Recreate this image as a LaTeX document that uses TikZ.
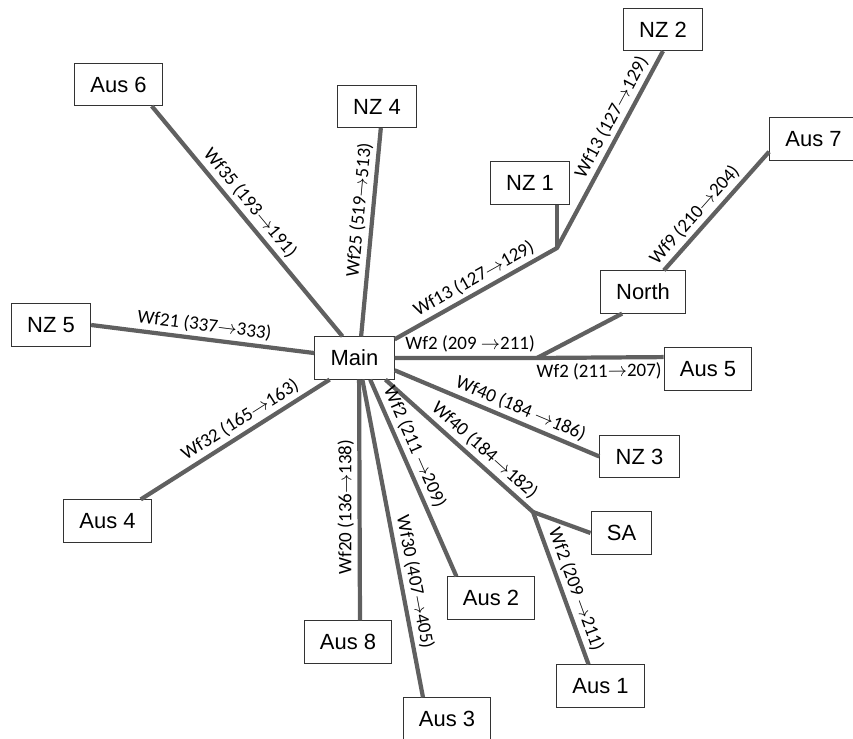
\documentclass[tikz,border=0pt]{standalone}
\usepackage{fontspec}
\setmainfont{Liberation Sans}
\newfontfamily\labfont{Carlito}
\usepackage{tikz}
\usetikzlibrary{calc}
\definecolor{wirecol}{RGB}{96,96,96}

\begin{document}
\begin{tikzpicture}[x=0.02cm,y=-0.02cm,
  box/.style={draw=black!80,line width=0.6pt,fill=white,minimum height=24pt,inner xsep=9pt,font=\fontsize{12.5}{15}\selectfont},
  wire/.style={draw=wirecol,line width=2.4pt,line join=round},
  labtxt/.style={inner sep=2pt,font=\labfont\fontsize{10.8}{12}\selectfont},
  lab/.style={labtxt,sloped,above}]
  \useasboundingbox (0,0) rectangle (853,739);
  % sites
  \node[box] (main)  at (354.5,358) {Main};
  \node[box] (aus6)  at (118.5,84.5) {Aus 6};
  \node[box] (nz4)   at (377,106.5) {NZ 4};
  \node[box] (nz1)   at (530,183) {NZ 1};
  \node[box] (nz2)   at (663,29.5) {NZ 2};
  \node[box] (north) at (643,292) {North};
  \node[box] (aus7)  at (813.5,139) {Aus 7};
  \node[box] (aus5)  at (708,369) {Aus 5};
  \node[box] (nz3)   at (639.5,456.5) {NZ 3};
  \node[box] (sa)    at (621.5,533) {SA};
  \node[box] (aus1)  at (600.5,686) {Aus 1};
  \node[box] (aus2)  at (491,598) {Aus 2};
  \node[box] (aus3)  at (447,719) {Aus 3};
  \node[box] (aus8)  at (348,642) {Aus 8};
  \node[box] (aus4)  at (107.5,521) {Aus 4};
  \node[box] (nz5)   at (51,325) {NZ 5};
  % branch points
  \coordinate (jn) at (557,248);
  \coordinate (jw) at (537,358);
  \coordinate (js) at (533,512);
  % links, upper half
  \draw[wire] (aus6.-33) -- node[lab,pos=.46]{Wf35 (193$\rightarrow$191)} (main.119);
  \draw[wire] (main.73) -- node[lab,pos=.6]{Wf25 (519$\rightarrow$513)} (nz4.-80);
  \draw[wire] (main.25) -- node[lab,pos=.53]{Wf13 (127$\rightarrow$129)} (jn)
    -- node[lab,pos=.63]{Wf13 (127$\rightarrow$129)} (nz2.south);
  \draw[wire] (jn) -- (jn |- nz1.south);
  \draw[wire] (main.east) -- node[lab,pos=.53]{Wf2 (209 $\rightarrow$211)} (jw)
    -- node[lab,below,pos=.49]{Wf2 (211$\rightarrow$207)} (aus5.165);
  \draw[wire] (jw) -- (north.-134);
  \draw[wire] (north.46) -- node[lab,pos=.39]{Wf9 (210$\rightarrow$204)} (aus7.-164);
  \draw[wire] (nz5.east) -- node[lab,pos=.5]{Wf21 (337$\rightarrow$333)} (main.173);
  % links, lower half
  \draw[wire] (main.-17) -- node[lab,pos=.59]{Wf40 (184 $\rightarrow$186)} (nz3.west);
  \draw[wire] (main.-35) -- node[lab,pos=.61]{Wf40 (184$\rightarrow$182)} (js)
    -- node[lab,pos=.54]{Wf2 (209 $\rightarrow$211)} (aus1.119);
  \draw[wire] (js) -- (sa.west);
  \draw[wire] (main.-54) -- node[lab,pos=.37]{Wf2 (211 $\rightarrow$209)} (aus2.148);
  \draw[wire] (main.-70) -- node[lab,pos=.645]{Wf30 (407$\rightarrow$405)} (aus3.138);
  \draw[wire] (aus8.61) -- node[labtxt,rotate=90,anchor=south,pos=.47]{Wf20 (136$\rightarrow$138)} (main.-78);
  \draw[wire] (aus4.33) -- node[lab,pos=.565]{Wf32 (165$\rightarrow$163)} (main.-139);
\end{tikzpicture}
\end{document}
